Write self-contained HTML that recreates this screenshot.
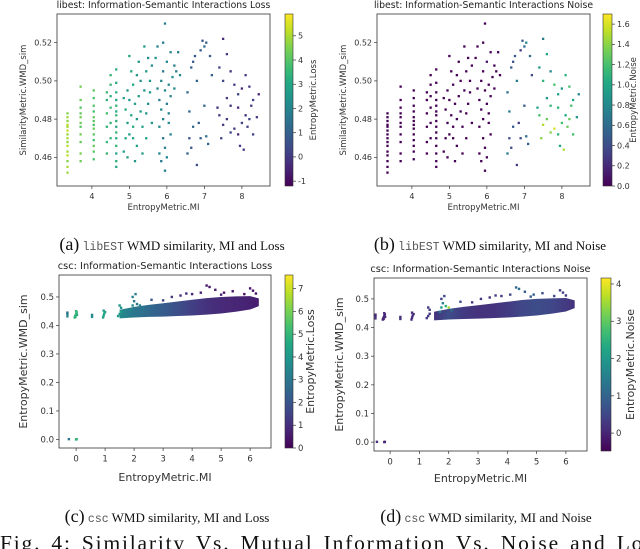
<!DOCTYPE html>
<html><head><meta charset="utf-8">
<style>
html,body{margin:0;padding:0;background:#fff;width:640px;height:549px;overflow:hidden;position:relative}
svg{position:absolute;left:0;top:0}
.cap{position:absolute;font-family:"Liberation Serif",serif;font-size:13px;color:#111;white-space:nowrap;transform:translateX(-50%)}
.cap .l{font-size:18px}
.cap .m{font-family:"Liberation Mono",monospace;font-size:11.5px;color:#555}
.fig{position:absolute;left:0;top:531px;width:640px;height:18px;overflow:hidden;font-family:"Liberation Serif",serif;font-size:21.5px;white-space:nowrap;color:#111;letter-spacing:1.8px;word-spacing:3px}
</style></head><body>
<svg id="chart" width="640" height="549"></svg>
<div class="cap" style="left:172px;top:234px"><span class="l">(a)</span> <span class="m">libEST</span> WMD similarity, MI and Loss</div>
<div class="cap" style="left:490px;top:234px"><span class="l">(b)</span> <span class="m">libEST</span> WMD similarity, MI and Noise</div>
<div class="cap" style="left:167px;top:506px"><span class="l">(c)</span> <span class="m">csc</span> WMD similarity, MI and Loss</div>
<div class="cap" style="left:486px;top:506px"><span class="l">(d)</span> <span class="m">csc</span> WMD similarity, MI and Noise</div>
<div class="fig">Fig. 4: Similarity Vs. Mutual Information Vs. Noise and Loss</div>
<script>
// ---- libEST data ----
const miLib = [
3.35,3.35,3.35,3.35,3.35,3.35,3.35,3.35,3.35,3.35,3.35,3.35,3.35,3.35,3.35,
3.7,3.7,3.7,3.7,3.7,3.7,3.7,3.7,3.7,3.7,3.7,
4.05,4.05,4.05,4.05,4.05,4.05,4.05,4.05,4.05,4.05,4.05,4.05,4.05,
4.4,4.4,4.4,4.4,4.4,4.4,4.5,4.5,4.5,4.5,4.5,4.5,
4.65,4.65,4.65,4.65,4.65,4.65,4.65,4.65,4.65,4.65,4.65,4.65,4.65,4.65,4.65,
4.85,4.9,4.95,4.9,5.0,5.05,5.1,5.0,4.95,5.1,5.15,5.2,5.2,5.25,5.3,5.05,4.85,5.15,5.25,5.0,5.1,5.3,4.95,5.2,5.35,
5.4,5.45,5.5,5.4,5.55,5.5,5.6,5.45,5.35,5.6,5.55,5.45,
5.75,5.8,5.85,5.9,5.85,5.9,5.95,6.0,5.8,5.9,5.95,6.0,5.85,5.95,6.05,6.1,6.0,6.15,6.2,6.1,5.7,5.75,5.9,6.05,5.95,6.1,6.2,6.25,6.3,6.35,6.05,5.8,
6.55,6.65,6.7,6.8,6.75,6.9,7.0,7.05,6.6,6.7,6.85,6.9,7.05,7.1,6.55,6.65,6.8,7.0,7.15,6.95,7.2,6.6,
7.4,7.5,7.6,7.5,7.7,7.8,7.9,8.0,8.1,8.2,8.3,8.45,8.4,8.2,8.1,8.0,7.9,7.8,7.7,7.6,7.5,7.45,7.4,7.35,7.6,7.9,8.15,8.25,8.05,7.95,8.3,7.7];
const wmdLib = [
.452,.455,.458,.461,.463,.466,.468,.470,.472,.474,.476,.477,.479,.481,.483,
.458,.462,.468,.472,.476,.478,.481,.483,.486,.490,.497,
.459,.463,.466,.469,.472,.475,.477,.479,.481,.484,.487,.491,.495,
.462,.468,.476,.483,.490,.494,.470,.478,.486,.492,.498,.503,
.455,.458,.462,.466,.470,.473,.476,.479,.482,.484,.487,.490,.494,.499,.506,
.463,.470,.478,.485,.490,.482,.476,.472,.495,.498,.488,.480,.466,.492,.500,.505,.491,.458,.510,.513,.470,.484,.460,.503,.476,
.495,.505,.512,.518,.500,.488,.478,.470,.462,.508,.494,.483,
.496,.490,.485,.480,.500,.505,.495,.488,.476,.470,.465,.460,.458,.453,.478,.492,.510,.502,.508,.515,.512,.518,.520,.498,.530,.472,.496,.505,.515,.503,.483,.462,
.494,.507,.510,.500,.513,.516,.518,.520,.470,.476,.478,.470,.471,.467,.462,.465,.456,.487,.513,.521,.503,.484,
.507,.522,.514,.500,.505,.498,.493,.496,.503,.497,.490,.493,.481,.480,.482,.478,.472,.475,.473,.480,.477,.470,.482,.486,.491,.486,.476,.487,.464,.466,.472,.487];
const lossLib = [
4.8,5.0,4.6,5.2,4.9,5.1,4.7,5.0,4.8,5.3,4.9,5.1,4.7,4.9,4.6,
4.3,4.5,4.2,4.4,4.1,4.3,4.4,4.2,4.0,4.3,4.4,
3.9,4.1,4.2,3.8,4.0,4.3,3.9,4.1,4.2,3.8,4.0,3.9,4.1,
3.5,3.6,3.4,3.7,3.3,3.6,3.5,3.4,3.6,3.3,3.5,3.4,
3.1,3.3,3.0,3.4,3.2,3.5,3.1,3.3,3.6,3.2,3.4,3.0,3.3,3.1,3.2,
2.8,3.0,2.7,3.1,2.6,2.9,3.2,2.7,2.5,3.0,2.8,2.6,2.9,2.7,2.4,3.1,2.8,2.6,2.5,2.9,3.0,2.7,2.8,2.6,2.9,
2.4,2.6,2.3,2.7,2.5,2.2,2.4,2.8,2.6,2.3,2.5,2.4,
2.0,1.8,2.1,1.9,2.2,1.7,2.0,1.8,2.1,1.6,1.9,2.0,1.7,1.8,2.2,1.9,2.1,2.3,1.8,2.0,2.4,1.9,1.7,2.1,1.8,2.0,2.2,1.6,1.9,2.1,1.8,2.0,
1.2,1.0,0.8,1.1,0.7,0.9,1.3,1.0,0.6,1.2,0.8,0.9,1.4,1.1,1.0,0.7,0.5,1.2,0.8,0.6,0.9,1.1,
0.2,-0.3,0.1,0.3,-0.2,0.0,0.2,-0.4,0.1,-0.1,0.3,-0.5,0.0,0.2,-0.2,0.1,-0.3,0.0,0.2,-0.1,0.1,0.3,0.0,-0.2,0.1,-0.3,0.2,0.0,-0.1,0.1,0.2,-0.2];
const noiseLib = [
0,0,0,0,0,0,0,0,0,0,0,0,0,0,0,
0,0,0,0,0,0,0,0,0,0,0,
0,0,0,0,0,0,0,0,0,0,0,0,0,
0,0,0,0,0,0,0,0,0,0,0,0,
0,0,0,0,0,0,0,0,0,0,0,0,0,0,0,
0,0,0,0,0,0,0,0,0,0,0,0,0,0,0,0,0,0,0,0,0,0,0,0,0,
0,0,0,0,0,0,0,0,0,0,0,0,
0,0,0,0,0,0,0,0,0,0,0,0,0,0,0,0,0.1,0,0,0,0,0,0,0,0,0,0,0,0,0,0,0,
0.6,0.5,0.4,0.7,0.5,0.3,0.6,0.8,0.4,0.5,0.3,0.4,0.6,0.5,0.7,0.4,0.3,0.5,0.6,0.5,0.4,0.7,
0.9,0.7,1.0,1.1,0.8,1.2,1.0,0.9,1.1,1.2,1.0,0.8,0.9,1.3,1.0,1.2,1.1,1.6,1.4,1.3,1.5,1.4,1.2,1.0,0.9,1.1,1.3,1.2,1.5,1.0,1.2,1.1];

// ---- csc data: dense band envelope ----
const bandMi    = [1.5, 2.0, 2.5, 3.0, 3.5, 4.0, 4.5, 5.0, 5.5, 6.0, 6.3];
const bandLo    = [.425,.428,.430,.431,.433,.435,.438,.442,.448,.456,.468];
const bandHi    = [.455,.465,.472,.478,.484,.490,.496,.500,.502,.503,.495];
const bandLoss  = [3.6, 3.0, 2.6, 2.2, 1.8, 1.4, 1.1, 0.9, 0.8, 0.7, 0.6];
const bandNoise = [0.2, 0.6, 0.3, 0.2, 0.2, 0.3, 0.5, 0.6, 0.5, 0.3, 0.2];
// ---- csc data: scattered points ----
const miCsc = [-0.3,-0.3,-0.3,-0.05,-0.03,0,0.02,0,0.03,-0.02,0.55,0.55,0.93,0.95,0.97,1.0,0.95,1.45,1.5,1.55,1.55,1.5,1.9,1.95,2.0,2.05,1.95,2.2,2.3,2.1,
-0.25,0.0,0.02,
3.0,3.3,3.6,4.0,4.3,4.5,4.6,4.8,5.1,5.4,5.8,6.0,6.1,6.2,5.0,3.8,2.6];
const wmdCsc = [.432,.440,.445,.428,.434,.440,.446,.450,.437,.430,.430,.437,.428,.435,.442,.447,.452,.433,.440,.448,.462,.470,.455,.470,.485,.510,.500,.470,.460,.475,
.001,.000,.001,
.488,.500,.505,.510,.515,.540,.535,.525,.515,.520,.510,.530,.522,.512,.508,.512,.490];
const lossCsc = [3.4,3.2,3.0,5.0,4.8,5.2,4.9,5.1,4.7,5.0,3.8,3.6,4.5,4.3,4.6,4.4,4.2,4.0,4.2,4.1,3.9,4.0,3.5,3.6,3.0,3.2,3.3,3.4,3.1,3.0,
3.0,4.8,5.0,
1.5,1.2,1.0,0.8,0.6,0.5,0.4,0.6,0.5,0.4,0.3,0.5,0.3,0.4,0.7,1.0,2.0];
const noiseCsc = [0.1,0.1,0.1,0.0,0.1,0.0,0.1,0.0,0.1,0.0,0.2,0.1,0.1,0.1,0.2,0.1,0.1,0.3,0.3,0.2,0.4,0.3,1.5,2.0,1.6,0.5,0.4,3.5,1.2,2.5,
0.1,0.1,0.0,
0.3,0.2,0.2,0.3,0.5,1.0,1.2,0.8,0.9,0.6,0.5,0.3,0.4,0.3,0.8,0.4,0.6];

const VIR = ["#440154","#482475","#414487","#355f8d","#2a788e","#21918c","#22a884","#44bf70","#7ad151","#bddf26","#fde725"];
function hex(h){return [1,3,5].map(i=>parseInt(h.substr(i,2),16));}
function viridis(t){t=Math.max(0,Math.min(1,t));const f=t*10,i=Math.min(9,Math.floor(f)),r=f-i;const a=hex(VIR[i]),b=hex(VIR[i+1]);
 return "rgb("+a.map((v,k)=>Math.round(v+(b[k]-v)*r)).join(",")+")";}

const NS="http://www.w3.org/2000/svg";
const svg=document.getElementById("chart");
function mk(tag,attrs,parent){const e=document.createElementNS(NS,tag);for(const k in attrs)e.setAttribute(k,attrs[k]);(parent||svg).appendChild(e);return e;}

function panel(P){
 const g=mk("g",{});
 
 
 const sx=v=>P.ox+(v-P.xmin)/(P.xmax-P.xmin)*P.w;
 const sy=v=>P.oy+P.h-(v-P.ymin)/(P.ymax-P.ymin)*P.h;
 const sc=v=>(v-P.cmin)/(P.cmax-P.cmin);
 const t=mk("text",{x:P.ox+P.w/2,y:P.oy-6,"text-anchor":"middle","font-family":"DejaVu Sans, Liberation Sans, sans-serif","font-size":P.fs+1.3,fill:"#222"},g);
 t.textContent=P.title;
 
 
 if(P.band){
  const gid="bg"+P.key;
  const lg=mk("linearGradient",{id:gid,x1:sx(bandMi[0]),x2:sx(bandMi[bandMi.length-1]),y1:0,y2:0,gradientUnits:"userSpaceOnUse"},g);
  bandMi.forEach((m,i)=>mk("stop",{offset:(m-bandMi[0])/(bandMi[bandMi.length-1]-bandMi[0]),"stop-color":viridis(sc(P.bandC[i]))},lg));
  let d="M"+bandMi.map((m,i)=>sx(m)+","+sy(bandHi[i])).join("L");
  for(let i=bandMi.length-1;i>=0;i--)d+="L"+sx(bandMi[i])+","+sy(bandLo[i]);
  const b=mk("path",{d:d+"Z",fill:"url(#"+gid+")"},g);
  
  
 }
 P.xs.forEach((x,i)=>{
  const c=mk("rect",{x:sx(x)-P.r/2,y:sy(P.ys[i])-P.r/2,width:P.r,height:P.r,fill:viridis(sc(P.cs[i]))},g);
  
  
 });
 const f=mk("rect",{x:P.ox,y:P.oy,width:P.w,height:P.h,fill:"none",stroke:"#333","stroke-width":0.8},g);
 
 
 const tf={"font-family":"DejaVu Sans, Liberation Sans, sans-serif","font-size":P.fs,fill:"#333"};
 P.xt.forEach(v=>{
  mk("line",{x1:sx(v),x2:sx(v),y1:P.oy+P.h,y2:P.oy+P.h+3,stroke:"#333","stroke-width":0.7},g);
  const l=mk("text",Object.assign({x:sx(v),y:P.oy+P.h+5+P.fs,"text-anchor":"middle"},tf),g);
  l.textContent=v;
  
  
 });
 P.yt.forEach(v=>{
  mk("line",{x1:P.ox-3,x2:P.ox,y1:sy(v),y2:sy(v),stroke:"#333","stroke-width":0.7},g);
  const l=mk("text",Object.assign({x:P.ox-5,y:sy(v)+P.fs*0.35,"text-anchor":"end"},tf),g);
  l.textContent=v.toFixed(P.yd);
  
  
 });
 const xl=mk("text",Object.assign({x:P.ox+P.w/2,y:P.xly,"text-anchor":"middle"},tf,{"font-size":P.lfs}),g);
 xl.textContent="EntropyMetric.MI";
 
 
 const yl=mk("text",Object.assign({x:0,y:0,"text-anchor":"middle",transform:"translate("+P.ylx+","+(P.oy+P.h/2)+") rotate(-90)"},tf,{"font-size":P.lfs}),g);
 yl.textContent=P.ylab;
 
 
 const cid="cb"+P.key;
 const cg=mk("linearGradient",{id:cid,x1:0,x2:0,y1:1,y2:0},g);
 VIR.forEach((c,i)=>mk("stop",{offset:i/10,"stop-color":c},cg));
 const cb=mk("rect",{x:P.cbx,y:P.oy,width:P.cbw,height:P.h,fill:"url(#"+cid+")",stroke:"#333","stroke-width":0.6},g);
 
 
 const cy=v=>P.oy+P.h-sc(v)*P.h;
 P.ct.forEach(v=>{
  mk("line",{x1:P.cbx+P.cbw,x2:P.cbx+P.cbw+3,y1:cy(v),y2:cy(v),stroke:"#333","stroke-width":0.7},g);
  const l=mk("text",Object.assign({x:P.cbx+P.cbw+5,y:cy(v)+P.fs*0.35},tf),g);
  l.textContent=v.toFixed(P.cd);
  
  
 });
 const cl=mk("text",Object.assign({x:0,y:0,"text-anchor":"middle",transform:"translate("+P.clx+","+(P.oy+P.h/2)+") rotate(-90)"},tf,{"font-size":P.lfs}),g);
 cl.textContent=P.clab;
 
 
}

panel({key:"a",title:"libest: Information-Semantic Interactions Loss",ox:57,oy:14,w:213,h:172,xmin:3.07,xmax:8.75,ymin:0.445,ymax:0.535,
 xs:miLib,ys:wmdLib,cs:lossLib,r:2.3,cmin:-1.2,cmax:5.9,cbx:285,cbw:8,fs:8,lfs:8.5,xt:[4,5,6,7,8],yt:[.46,.48,.50,.52],yd:2,
 ct:[-1,0,1,2,3,4,5],cd:0,xly:210,ylx:26,ylab:"SimilarityMetric.WMD_sim",clx:316,clab:"EntropyMetric.Loss"});
panel({key:"b",title:"libest: Information-Semantic Interactions Noise",ox:377,oy:14,w:213,h:172,xmin:3.07,xmax:8.75,ymin:0.445,ymax:0.535,
 xs:miLib,ys:wmdLib,cs:noiseLib,r:2.3,cmin:0,cmax:1.7,cbx:603,cbw:9,fs:8,lfs:8.5,xt:[4,5,6,7,8],yt:[.46,.48,.50,.52],yd:2,
 ct:[0,0.2,0.4,0.6,0.8,1.0,1.2,1.4,1.6],cd:1,xly:210,ylx:346,ylab:"SimilarityMetric.WMD_sim",clx:636,clab:"EntropyMetric.Noise"});
panel({key:"c",title:"csc: Information-Semantic Interactions Loss",ox:59,oy:275,w:212,h:173,xmin:-0.59,xmax:6.72,ymin:-0.03,ymax:0.577,
 band:true,bandC:bandLoss,xs:miCsc,ys:wmdCsc,cs:lossCsc,r:2.4,cmin:0,cmax:7.6,cbx:285,cbw:8,fs:8.5,lfs:11,xt:[0,1,2,3,4,5,6],yt:[0,.1,.2,.3,.4,.5],yd:1,
 ct:[0,1,2,3,4,5,6,7],cd:0,xly:481,ylx:27,ylab:"EntropyMetric.WMD_sim",clx:314,clab:"EntropyMetric.Loss"});
panel({key:"d",title:"csc: Information-Semantic Interactions Noise",ox:374,oy:278,w:213,h:173,xmin:-0.55,xmax:6.72,ymin:-0.031,ymax:0.573,
 band:true,bandC:bandNoise,xs:miCsc.map(v=>v-0.2),ys:wmdCsc,cs:noiseCsc,r:2.4,cmin:-0.48,cmax:4.16,cbx:601,cbw:10,fs:8.5,lfs:11,xt:[0,1,2,3,4,5,6],yt:[0,.1,.2,.3,.4,.5],yd:1,
 ct:[0,1,2,3,4],cd:0,xly:482,ylx:343,ylab:"EntropyMetric.WMD_sim",clx:634,clab:"EntropyMetric.Noise"});
</script>
</body></html>
